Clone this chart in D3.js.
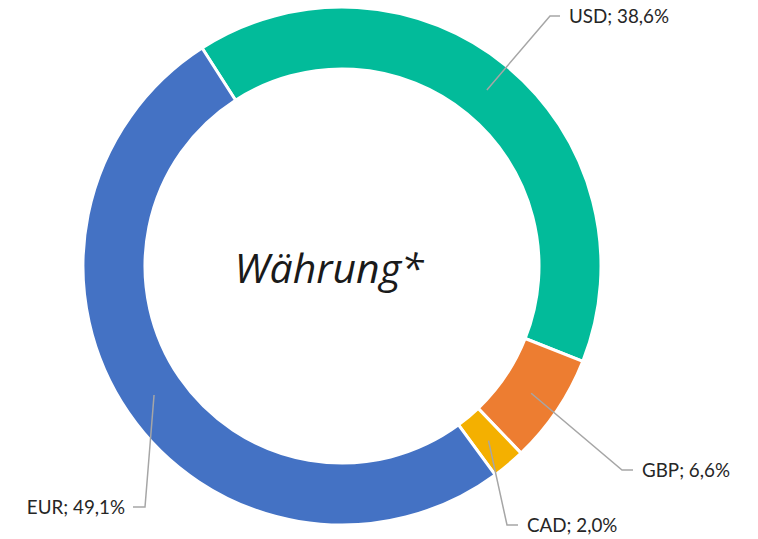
<!DOCTYPE html>
<html>
<head>
<meta charset="utf-8">
<script src="https://cdn.jsdelivr.net/npm/d3@7"></script>
<style>
  html, body { margin: 0; padding: 0; background: #fff; }
  svg { display: block; }
</style>
</head>
<body>
<svg id="chart" width="758" height="539"></svg>
<script>
// Currency shares (clockwise from the first slice)
const currencies = ["USD", "GBP", "CAD", "EUR"];
const shares = [38.6, 6.6, 2.0, 49.1];
const sliceColors = ["#02BB9A", "#ED7D31", "#F4B000", "#4472C4"];
const centerTitle = "Währung*";

// Layout of the callouts: elbow point and which side the text sits on
const callouts = {
  USD: { elbow: [550, 16], end: [560, 16], anchor: "start" },
  GBP: { elbow: [622, 470], end: [633, 470], anchor: "start" },
  CAD: { elbow: [507, 525], end: [518, 525], anchor: "start" },
  EUR: { elbow: [145, 507], end: [133, 507], anchor: "end" }
};

const svg = d3.select("#chart");
const cx = 342, cy = 266;
const outerR = 259, innerR = 197;
const deg = Math.PI / 180;

const data = currencies.map((c, i) => ({ name: c, value: shares[i], color: sliceColors[i] }));

const pie = d3.pie()
  .sort(null)
  .value(d => d.value)
  .startAngle(-32.7 * deg)
  .endAngle(327.3 * deg);

const arc = d3.arc().innerRadius(innerR).outerRadius(outerR);

const g = svg.append("g").attr("transform", `translate(${cx},${cy})`);
const arcs = pie(data);

g.selectAll("path.slice")
  .data(arcs)
  .join("path")
  .attr("class", "slice")
  .attr("d", arc)
  .attr("fill", d => d.data.color)
  .attr("stroke", "#fff")
  .attr("stroke-width", 3)
  .attr("stroke-linejoin", "miter");

// Leader lines from slice centroids to the labels
const fmt = v => v.toFixed(1).replace(".", ",") + "%";

svg.selectAll("polyline.leader")
  .data(arcs)
  .join("polyline")
  .attr("class", "leader")
  .attr("fill", "none")
  .attr("stroke", "#A6A6A6")
  .attr("stroke-width", 1.5)
  .attr("points", d => {
    const c = arc.centroid(d);
    const L = callouts[d.data.name];
    return [[cx + c[0], cy + c[1]], L.elbow, L.end].map(p => p.join(",")).join(" ");
  });

svg.selectAll("text.lbl")
  .data(arcs)
  .join("text")
  .attr("class", "lbl")
  .attr("x", d => {
    const L = callouts[d.data.name];
    return L.anchor === "start" ? L.end[0] + 9 : L.end[0] - 8;
  })
  .attr("y", d => callouts[d.data.name].end[1])
  .attr("dy", "0.35em")
  .attr("text-anchor", d => callouts[d.data.name].anchor)
  .attr("font-family", "Lato, 'Open Sans', sans-serif")
  .attr("font-size", 18.8)
  .attr("fill", "#262626")
  .text(d => `${d.data.name}; ${fmt(d.data.value)}`);

svg.append("text")
  .attr("x", 329)
  .attr("y", 283)
  .attr("text-anchor", "middle")
  .attr("font-family", "'Open Sans', Lato, sans-serif")
  .attr("font-style", "italic")
  .attr("font-size", 41)
  .attr("fill", "#1a1a1a")
  .text(centerTitle);
</script>
</body>
</html>
